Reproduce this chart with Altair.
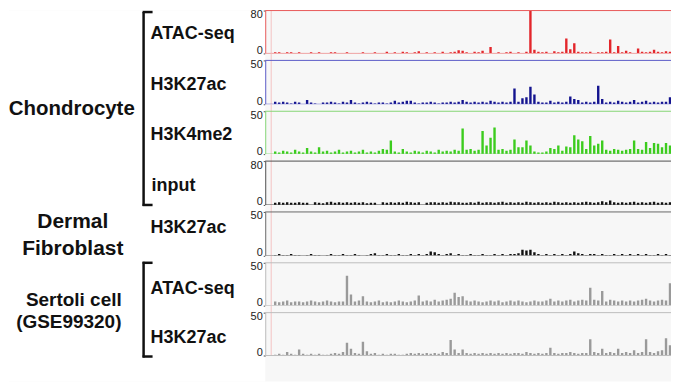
import altair as alt
import pandas as pd

# ---------------- data ----------------
group_labels = ["Chondrocyte", "Dermal", "Fibroblast", "Sertoli cell", "(GSE99320)"]
track_labels = ["ATAC-seq", "H3K27ac", "H3K4me2", "input", "H3K27ac", "ATAC-seq", "H3K27ac"]
track_max = [80, 50, 50, 80, 50, 50, 50]

chondro_atac = [
    0, 0, 2, 2, 1, 2, 2, 1, 2, 1,
    0, 2, 1, 2, 1, 0, 2, 2, 1, 0,
    2, 1, 0, 1, 2, 1, 0, 2, 1, 0,
    3, 1, 2, 1, 3, 2, 1, 2, 4, 1,
    2, 0, 2, 1, 3, 1, 2, 3, 6, 5,
    2, 1, 3, 2, 5, 1, 12, 1, 2, 1,
    2, 3, 1, 2, 1, 3, 80, 7, 3, 2,
    3, 1, 4, 2, 3, 28, 8, 19, 3, 2,
    2, 3, 1, 2, 2, 3, 26, 2, 14, 2,
    5, 2, 1, 9, 3, 2, 3, 7, 3, 2,
    4, 3, 2, 3,
]
chondro_h3k27ac = [
    0, 0, 3, 2, 3, 2, 1, 3, 2, 0,
    5, 2, 1, 0, 2, 2, 3, 2, 1, 3,
    2, 5, 2, 1, 2, 3, 2, 1, 2, 2,
    1, 2, 4, 2, 3, 4, 4, 2, 1, 2,
    2, 3, 2, 1, 2, 2, 3, 2, 3, 5,
    3, 2, 3, 2, 3, 2, 4, 3, 2, 3,
    2, 3, 18, 3, 7, 8, 20, 11, 3, 2,
    2, 4, 2, 3, 2, 3, 9, 6, 5, 2,
    3, 2, 3, 21, 6, 2, 3, 2, 4, 3,
    2, 3, 5, 2, 3, 4, 2, 3, 2, 3,
    3, 8, 5, 3,
]
chondro_h3k4me2 = [
    0, 0, 3, 2, 4, 3, 2, 5, 3, 2,
    7, 3, 2, 8, 3, 4, 2, 3, 5, 2,
    3, 4, 2, 3, 5, 2, 3, 2, 4, 6,
    5, 16, 3, 2, 6, 3, 2, 4, 3, 2,
    4, 3, 2, 5, 3, 4, 3, 5, 4, 30,
    5, 6, 4, 5, 27, 10, 19, 31, 5, 6,
    4, 5, 17, 8, 8, 16, 10, 3, 2, 2,
    3, 7, 6, 10, 4, 9, 8, 22, 17, 15,
    6, 21, 10, 12, 16, 5, 4, 6, 5, 4,
    5, 6, 16, 6, 5, 14, 7, 13, 12, 8,
    13, 10, 14, 12,
]
chondro_input = [
    0, 0, 4, 5, 4, 5, 4, 4, 5, 4,
    4, 0, 5, 4, 3, 5, 6, 4, 5, 4,
    5, 4, 5, 4, 5, 3, 4, 4, 0, 5,
    4, 5, 4, 5, 4, 6, 5, 4, 5, 0,
    4, 5, 5, 4, 5, 4, 6, 5, 5, 4,
    4, 5, 4, 6, 4, 5, 5, 4, 5, 6,
    4, 5, 4, 5, 4, 6, 5, 4, 5, 4,
    5, 4, 6, 5, 4, 5, 4, 5, 4, 5,
    6, 5, 4, 5, 7, 5, 8, 5, 4, 5,
    4, 5, 6, 4, 5, 4, 5, 6, 4, 5,
    4, 5, 4, 3,
]
fibro_h3k27ac = [
    0, 0, 1, 2, 1, 1, 2, 1, 1, 0,
    1, 2, 1, 1, 0, 1, 2, 1, 1, 2,
    1, 1, 2, 1, 0, 1, 2, 3, 1, 1,
    2, 1, 1, 2, 1, 1, 2, 1, 2, 1,
    2, 5, 4, 2, 1, 2, 3, 1, 2, 1,
    1, 2, 1, 1, 2, 1, 1, 2, 1, 2,
    1, 2, 2, 3, 7, 6, 7, 4, 2, 1,
    2, 1, 2, 1, 2, 1, 2, 5, 3, 2,
    1, 2, 2, 1, 2, 1, 1, 2, 1, 2,
    1, 2, 1, 2, 1, 2, 1, 1, 2, 1,
    2, 1, 2, 1,
]
sertoli_atac = [
    0, 0, 5, 4, 5, 6, 4, 5, 5, 4,
    5, 6, 5, 4, 5, 6, 5, 4, 5, 5,
    35, 13, 5, 6, 11, 5, 4, 5, 6, 4,
    5, 4, 5, 6, 5, 4, 5, 6, 12, 5,
    6, 5, 7, 5, 6, 7, 8, 15, 10, 11,
    6, 5, 6, 5, 4, 5, 6, 5, 6, 4,
    5, 6, 5, 6, 5, 4, 5, 6, 5, 5,
    6, 8, 5, 6, 5, 6, 7, 5, 6, 7,
    6, 21, 7, 6, 17, 5, 7, 6, 5, 6,
    5, 6, 5, 6, 7, 8, 6, 5, 6, 7,
    6, 26, 7, 50,
]
sertoli_h3k27ac = [
    0, 0, 1, 2, 1, 4, 2, 1, 7, 2,
    1, 2, 1, 2, 1, 1, 2, 3, 2, 4,
    15, 8, 3, 2, 16, 5, 2, 3, 1, 2,
    1, 2, 2, 1, 1, 2, 3, 2, 3, 2,
    3, 2, 3, 2, 4, 3, 18, 7, 3, 7,
    3, 2, 3, 2, 3, 2, 3, 2, 3, 2,
    3, 2, 3, 3, 2, 4, 3, 2, 3, 2,
    3, 9, 3, 2, 3, 3, 4, 3, 2, 3,
    3, 19, 4, 3, 8, 3, 4, 3, 8, 3,
    4, 3, 6, 3, 4, 19, 4, 3, 5, 6,
    20, 12, 10, 6,
]

track_values = [chondro_atac, chondro_h3k27ac, chondro_h3k4me2, chondro_input,
                fibro_h3k27ac, sertoli_atac, sertoli_h3k27ac]

# ---------------- styles / layout ----------------
bar_colors = ["#e3262b", "#14148f", "#3ccc1e", "#101010", "#101010", "#9a9a9a", "#9a9a9a"]
line_colors = ["#e85a5a", "#5c5cc8", "#86d676", "#505050", "#6a6a6a", "#bdbdbd", "#bdbdbd"]
gaps = [0, 7, 7, 7, 7, 7, 7]
data_h = [43, 44, 43, 44, 44, 43, 43]
extra = [0, 0, 0, 0, 0, 0, 26]
LW = 257
PLOT_W = 407
X_DOMAIN = [0, 101.75]
BG = "#f7f7f7"
FONT = "Liberation Sans"


def track_chart(k):
    vals = track_values[k]
    ymax = track_max[k]
    g, d, e = gaps[k], data_h[k], extra[k]
    H = g + d + e
    df = pd.DataFrame({
        "x0": [i + 0.2 for i in range(len(vals))],
        "x1": [i + 0.8 for i in range(len(vals))],
        "v": vals,
    })
    df["z"] = 0
    lines = pd.DataFrame({"xp": [1.5], "lo": [0], "hi": [ymax]})
    xsc = alt.Scale(domain=X_DOMAIN, nice=False, zero=False)
    ysc = alt.Scale(domain=[0, ymax], range=[g + d, g], nice=False)
    bars = alt.Chart(df).mark_rect(color=bar_colors[k], strokeWidth=0, clip=True).encode(
        x=alt.X("x0:Q", scale=xsc, axis=None),
        x2="x1:Q",
        y=alt.Y("v:Q", scale=ysc, axis=alt.Axis(
            values=[0, ymax], title=None, grid=False,
            domainColor=line_colors[k], domainWidth=1,
            tickColor="#555", tickSize=2, labelPadding=1,
            labelFontSize=11, labelColor="#222", labelFont=FONT,
            labelFlush=True, labelFlushOffset=2)),
        y2="z:Q",
    )
    pink = alt.Chart(lines).mark_rule(color="#f3c3c3", strokeWidth=1).encode(
        x=alt.X("xp:Q"), y=alt.value(0), y2=alt.value(g + d))
    top = alt.Chart(lines).mark_rule(color=line_colors[k], strokeWidth=1).encode(
        y=alt.Y("hi:Q"))
    bottom = alt.Chart(lines).mark_rule(color=line_colors[k], strokeWidth=1).encode(
        y=alt.Y("lo:Q"))
    return alt.layer(bars, pink, top, bottom).properties(
        width=PLOT_W, height=H,
    )


tracks = alt.vconcat(*[track_chart(k) for k in range(7)], spacing=0, bounds="flush")

# ---------------- left-hand labels ----------------


def label(text, x, y, size, align):
    return alt.Chart(pd.DataFrame({"t": [text]})).mark_text(
        align=align, baseline="alphabetic", fontSize=size,
        fontWeight="bold", font=FONT, color="#111",
    ).encode(text="t:N", x=alt.value(x), y=alt.value(y))


def vline(x, y1, y2):
    return alt.Chart(pd.DataFrame({"a": [y1], "b": [y2]})).mark_rule(
        color="#111", strokeWidth=2.5).encode(
        x=alt.value(x), y=alt.value(y1), y2=alt.value(y2))


def hline(x1, x2, y):
    return alt.Chart(pd.DataFrame({"a": [x1], "b": [x2]})).mark_rule(
        color="#111", strokeWidth=2.5).encode(
        x=alt.value(x1), x2=alt.value(x2), y=alt.value(y))


unit = alt.Scale(domain=[0, 1], nice=False)
white_bg = alt.Chart(pd.DataFrame({"a": [0], "b": [1]})).mark_rect(
    color="white", strokeWidth=0).encode(
    x=alt.X("a:Q", scale=unit, axis=None), x2="b:Q",
    y=alt.Y("a:Q", scale=unit, axis=None), y2="b:Q")

left_layers = [
    white_bg,
    label(group_labels[0], 63, 105, 20.5, "center"),
    label(group_labels[1], 64, 218, 21, "center"),
    label(group_labels[2], 64, 245, 21, "center"),
    label(group_labels[3], 65, 296, 19, "center"),
    label(group_labels[4], 60, 318, 19, "center"),
    label(track_labels[0], 142, 29, 18, "left"),
    label(track_labels[1], 142, 80, 18, "left"),
    label(track_labels[2], 142, 130, 18, "left"),
    label(track_labels[3], 143, 181, 18, "left"),
    label(track_labels[4], 142, 223, 18, "left"),
    label(track_labels[5], 142, 284, 18, "left"),
    label(track_labels[6], 142, 333, 18, "left"),
    vline(135, 1.5, 196), hline(134, 144, 1.5), hline(134, 144, 195),
    vline(135, 252, 348), hline(134, 144, 253), hline(134, 144, 347),
]
left = alt.layer(*left_layers).properties(width=LW, height=372)

chart = alt.hconcat(left, tracks, spacing=0, bounds="flush").properties(
    padding={"left": 0, "top": 0, "right": 0, "bottom": 0},
    background="white",
).configure_view(stroke=None, fill=BG)

chart.save("out.html", embed_options={"renderer": "svg", "actions": False})
